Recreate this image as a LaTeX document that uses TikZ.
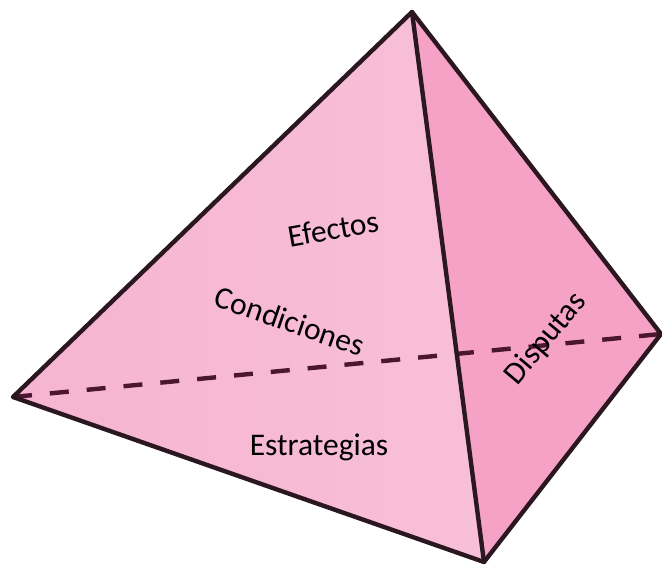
\documentclass[tikz,border=0pt]{standalone}
\usepackage{fontspec}
\setmainfont{Carlito}
\definecolor{faceL}{HTML}{F8BFD8}
\definecolor{faceLb}{HTML}{F6B4D1}
\definecolor{faceR}{HTML}{F6A2C7}
\definecolor{edgec}{HTML}{2A1720}
\definecolor{dashc}{HTML}{4A1630}
\tikzset{edgeline/.style={draw=edgec,line width=4.4pt,line join=round,line cap=round},
 hidden/.style={draw=dashc,line width=4.4pt,dash pattern=on 19pt off 18pt},
 lab/.style={font=\fontsize{31.5}{36}\selectfont,text=black}}
\begin{document}
\begin{tikzpicture}[x=1pt,y=-1pt]
\useasboundingbox (0,0) rectangle (662,565);
\coordinate (T) at (412,12);
\coordinate (L) at (13,397);
\coordinate (B) at (484,562);
\coordinate (R) at (661,334);
\shade[left color=faceLb,right color=faceL] (T)--(L)--(B)--cycle;
\fill[faceR] (T)--(R)--(B)--cycle;
\draw[hidden] (L)--(R);
\draw[edgeline] (T)--(L)--(B)--(R)--cycle;
\draw[edgeline] (T)--(B);
\node[lab,rotate=10] (n1) at (333,229) {Efectos};
\node[lab,rotate=-19] (n2) at (290,321) {Condiciones};
\node[lab,rotate=50] (n3) at (546,339) {Disputas};
\node[lab] (n4) at (319,447) {Estrategias};
\end{tikzpicture}
\end{document}
